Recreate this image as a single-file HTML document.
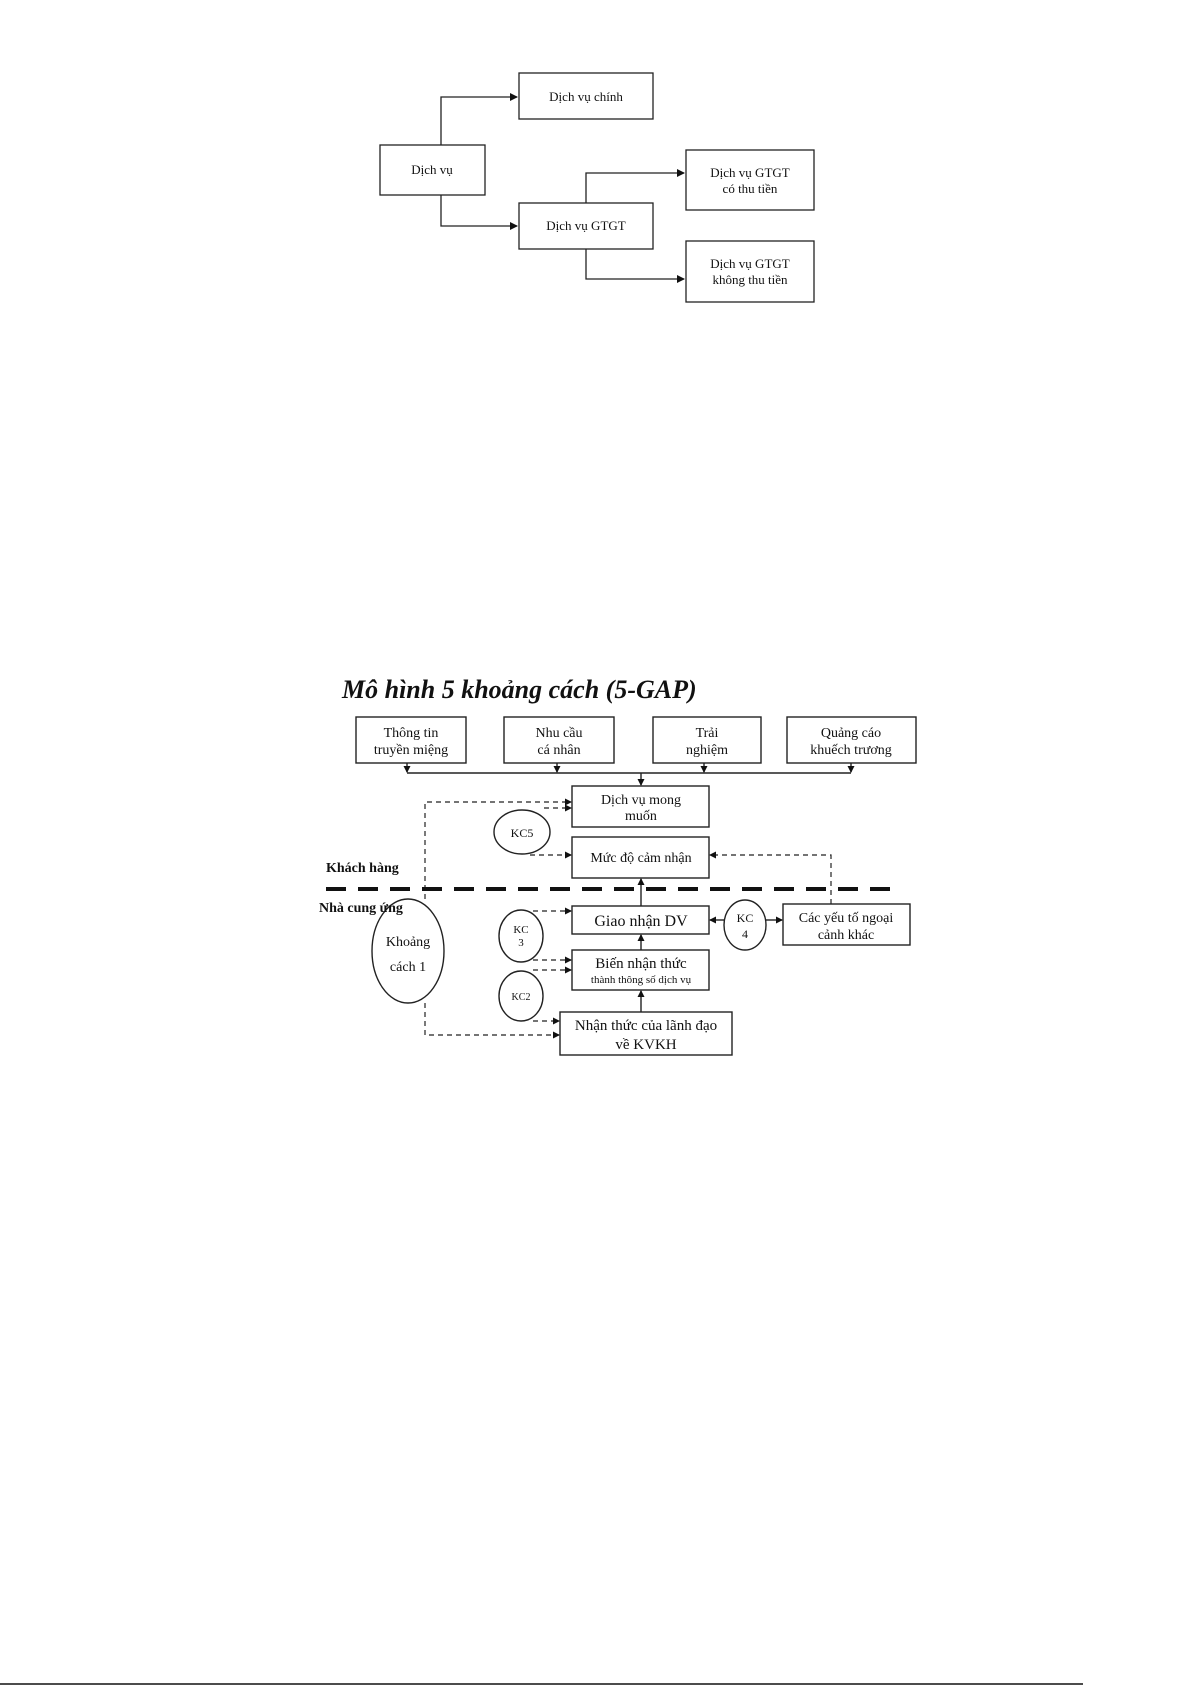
<!DOCTYPE html>
<html><head><meta charset="utf-8"><style>
html,body{margin:0;padding:0;background:#fff;}
svg{display:block;}
text{font-family:"Liberation Serif",serif;fill:#111;}
</style></head><body>
<svg width="1192" height="1685" viewBox="0 0 1192 1685" xmlns="http://www.w3.org/2000/svg">
<defs>
<marker id="a" markerWidth="8" markerHeight="8" refX="7" refY="4" orient="auto" markerUnits="userSpaceOnUse"><path d="M0,0 L8,4 L0,8 z" fill="#111"/></marker>
<marker id="s" markerWidth="7" markerHeight="7" refX="6" refY="3.5" orient="auto" markerUnits="userSpaceOnUse"><path d="M0,0 L7,3.5 L0,7 z" fill="#111"/></marker>
</defs>
<g fill="none" stroke="#222" stroke-width="1.3">
<rect x="519" y="73" width="134" height="46"/>
<rect x="380" y="145" width="105" height="50"/>
<rect x="519" y="203" width="134" height="46"/>
<rect x="686" y="150" width="128" height="60"/>
<rect x="686" y="241" width="128" height="61"/>
<polyline points="441,145 441,97 517,97" marker-end="url(#a)"/>
<polyline points="441,195 441,226 517,226" marker-end="url(#a)"/>
<polyline points="586,203 586,173 684,173" marker-end="url(#a)"/>
<polyline points="586,249 586,279 684,279" marker-end="url(#a)"/>
</g>
<g font-size="13" text-anchor="middle">
<text x="586" y="101">Dịch vụ chính</text>
<text x="432" y="174">Dịch vụ</text>
<text x="586" y="230">Dịch vụ GTGT</text>
<text x="750" y="177">Dịch vụ GTGT</text>
<text x="750" y="193">có thu tiền</text>
<text x="750" y="268">Dịch vụ GTGT</text>
<text x="750" y="284">không thu tiền</text>
</g>

<text x="342" y="698" font-size="26" font-weight="bold" font-style="italic">Mô hình 5 khoảng cách (5-GAP)</text>
<g fill="none" stroke="#222" stroke-width="1.4">
<rect x="356" y="717" width="110" height="46"/>
<rect x="504" y="717" width="110" height="46"/>
<rect x="653" y="717" width="108" height="46"/>
<rect x="787" y="717" width="129" height="46"/>
<polyline points="407,773 851,773"/>
<line x1="407" y1="763" x2="407" y2="772" marker-end="url(#s)"/>
<line x1="557" y1="763" x2="557" y2="772" marker-end="url(#s)"/>
<line x1="704" y1="763" x2="704" y2="772" marker-end="url(#s)"/>
<line x1="851" y1="763" x2="851" y2="772" marker-end="url(#s)"/>
<line x1="641" y1="773" x2="641" y2="785" marker-end="url(#s)"/>
<rect x="572" y="786" width="137" height="41"/>
<rect x="572" y="837" width="137" height="41"/>
<rect x="572" y="906" width="137" height="28"/>
<rect x="572" y="950" width="137" height="40"/>
<rect x="560" y="1012" width="172" height="43"/>
<rect x="783" y="904" width="127" height="41"/>
<ellipse cx="522" cy="832" rx="28" ry="22"/>
<ellipse cx="745" cy="925" rx="21" ry="25"/>
<ellipse cx="521" cy="936" rx="22" ry="26"/>
<ellipse cx="521" cy="996" rx="22" ry="25"/>
<ellipse cx="408" cy="951" rx="36" ry="52"/>
<line x1="641" y1="906" x2="641" y2="879" marker-end="url(#s)"/>
<line x1="641" y1="950" x2="641" y2="935" marker-end="url(#s)"/>
<line x1="641" y1="1012" x2="641" y2="991" marker-end="url(#s)"/>
<line x1="724" y1="920" x2="710" y2="920" marker-end="url(#s)"/>
<line x1="766" y1="920" x2="782" y2="920" marker-end="url(#s)"/>
</g>
<g fill="none" stroke="#222" stroke-width="1.2" stroke-dasharray="5,4">
<polyline points="425,899 425,802 571,802" marker-end="url(#s)"/>
<line x1="544" y1="808" x2="571" y2="808" marker-end="url(#s)"/>
<line x1="530" y1="855" x2="571" y2="855" marker-end="url(#s)"/>
<polyline points="831,904 831,855 710,855" marker-end="url(#s)"/>
<line x1="533" y1="911" x2="571" y2="911" marker-end="url(#s)"/>
<line x1="533" y1="960" x2="571" y2="960" marker-end="url(#s)"/>
<line x1="533" y1="970" x2="571" y2="970" marker-end="url(#s)"/>
<line x1="533" y1="1021" x2="559" y2="1021" marker-end="url(#s)"/>
<polyline points="425,1003 425,1035 559,1035" marker-end="url(#s)"/>
</g>
<line x1="326" y1="889" x2="898" y2="889" stroke="#111" stroke-width="4" stroke-dasharray="20,12"/>
<g font-size="14" text-anchor="middle">
<text x="411" y="737">Thông tin</text><text x="411" y="754">truyền miệng</text>
<text x="559" y="737">Nhu cầu</text><text x="559" y="754">cá nhân</text>
<text x="707" y="737">Trải</text><text x="707" y="754">nghiệm</text>
<text x="851" y="737">Quảng cáo</text><text x="851" y="754">khuếch trương</text>
<text x="641" y="804">Dịch vụ mong</text><text x="641" y="820">muốn</text>
<text x="641" y="862">Mức độ cảm nhận</text>
<text x="641" y="926" font-size="16">Giao nhận DV</text>
<text x="641" y="968" font-size="15">Biến nhận thức</text>
<text x="641" y="983" font-size="11">thành thông số dịch vụ</text>
<text x="646" y="1030" font-size="15">Nhận thức của lãnh đạo</text>
<text x="646" y="1049" font-size="15">về KVKH</text>
<text x="846" y="922">Các yếu tố ngoại</text><text x="846" y="939">cảnh khác</text>
<text x="522" y="837" font-size="12">KC5</text>
<text x="745" y="922" font-size="12">KC</text><text x="745" y="938" font-size="12">4</text>
<text x="521" y="933" font-size="11">KC</text><text x="521" y="946" font-size="11">3</text>
<text x="521" y="1000" font-size="10">KC2</text>
<text x="408" y="946" font-size="14">Khoảng</text><text x="408" y="971" font-size="14">cách 1</text>
</g>
<text x="326" y="872" font-size="14" font-weight="bold">Khách hàng</text>
<text x="319" y="912" font-size="14" font-weight="bold">Nhà cung ứng</text>
<line x1="0" y1="1684" x2="1083" y2="1684" stroke="#111" stroke-width="1.5"/>
</svg>
</body></html>
